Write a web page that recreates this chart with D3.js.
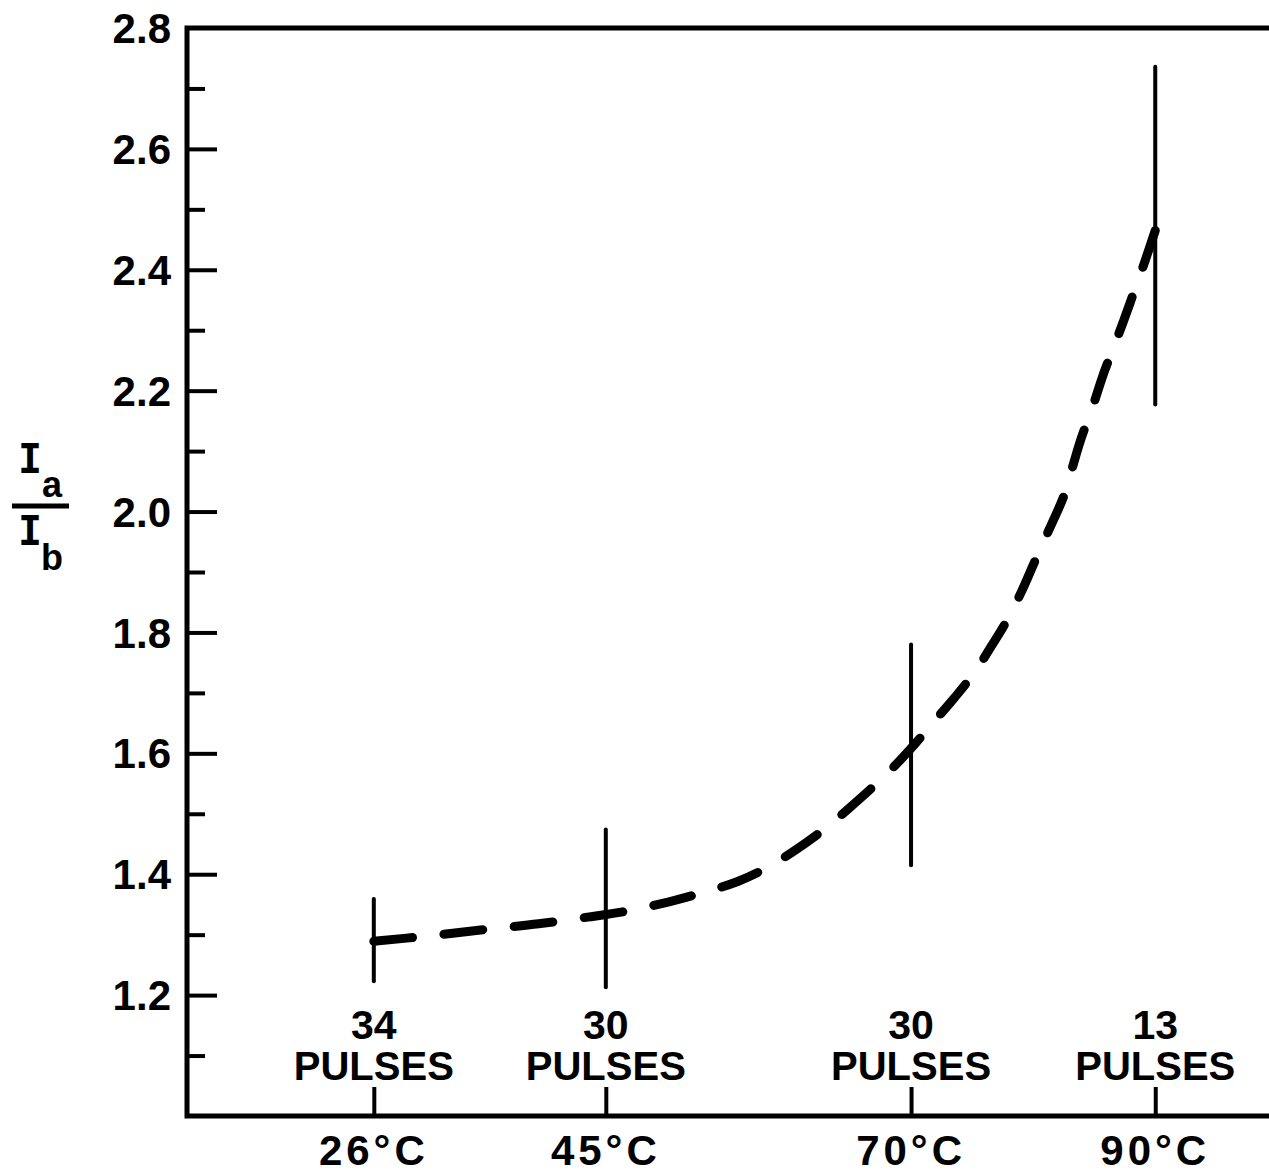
<!DOCTYPE html>
<html>
<head>
<meta charset="utf-8">
<script src="https://cdn.jsdelivr.net/npm/d3@7"></script>
<style>
  html, body { margin: 0; padding: 0; background: #fff; }
  svg { display: block; }
  text { fill: #000; }
</style>
</head>
<body>
<svg id="chart" width="1269" height="1173"></svg>
<script>
// Measurement temperatures (°C) and the number of pulses averaged at each
const temps = [26, 45, 70, 90];
const pulseCounts = [34, 30, 30, 13];
const tempLabels = ["26°C", "45°C", "70°C", "90°C"];

// Spread of the ratio I_a / I_b at each temperature (vertical bars)
const ratioLow  = [1.223, 1.213, 1.415, 2.177];
const ratioHigh = [1.359, 1.474, 1.780, 2.736];

// Smooth trend through the measurements (dashed curve)
const trendTemp  = [26, 30.5, 35.3, 39.5, 43.5, 47, 50.1, 53, 55.8, 58.3, 60.6, 62.8, 64.8, 66.8, 68.6, 70.3, 71.9, 73.6, 75.2, 76.6, 78.0, 79.1, 80.1, 81.3, 82.5, 83.2, 83.9, 84.9, 85.8, 86.6, 87.4, 88.2, 89.0, 90];
const trendRatio = [1.289, 1.298, 1.309, 1.318, 1.329, 1.340, 1.354, 1.370, 1.388, 1.412, 1.441, 1.473, 1.507, 1.543, 1.578, 1.615, 1.653, 1.693, 1.734, 1.778, 1.825, 1.870, 1.916, 1.970, 2.025, 2.072, 2.119, 2.175, 2.230, 2.272, 2.315, 2.360, 2.405, 2.465];

// Axis ticks
const yMajor = [1.2, 1.4, 1.6, 1.8, 2.0, 2.2, 2.4, 2.6, 2.8];
const yMinor = [1.1, 1.3, 1.5, 1.7, 1.9, 2.1, 2.3, 2.5, 2.7];
const yTickLabels = ["1.2", "1.4", "1.6", "1.8", "2.0", "2.2", "2.4", "2.6", "2.8"];

const SANS = '"Liberation Sans", Arial, sans-serif';
const MONO = '"DejaVu Sans Mono", monospace';

const svg = d3.select("#chart");

const plot = { left: 187, top: 28, right: 1292, bottom: 1116 };

const x = d3.scaleLinear().domain([10.7, 101.2]).range([plot.left, plot.right]);
const y = d3.scaleLinear().domain([1.0, 2.8]).range([plot.bottom, plot.top]);

function label(sel, size) {
  return sel.style("font-family", SANS).style("font-weight", "700").style("font-size", size + "px");
}

// Frame (right edge runs past the page)
svg.append("rect")
  .attr("x", plot.left).attr("y", plot.top)
  .attr("width", plot.right - plot.left).attr("height", plot.bottom - plot.top)
  .attr("fill", "none").attr("stroke", "#000").attr("stroke-width", 5);

// Y axis: major ticks with labels, minor ticks between
const yAxis = d3.axisRight(y)
  .tickValues(yMajor.filter(v => v < 2.8))
  .tickSize(30).tickFormat("");
const gy = svg.append("g").attr("transform", `translate(${plot.left},0)`).call(yAxis);
gy.select(".domain").remove();
gy.selectAll(".tick line").attr("stroke", "#000").attr("stroke-width", 4);

const yAxisMinor = d3.axisRight(y).tickValues(yMinor).tickSize(18).tickFormat("");
const gym = svg.append("g").attr("transform", `translate(${plot.left},0)`).call(yAxisMinor);
gym.select(".domain").remove();
gym.selectAll(".tick line").attr("stroke", "#000").attr("stroke-width", 4);

svg.append("g").selectAll("text")
  .data(yMajor)
  .join("text")
  .attr("x", 171)
  .attr("y", d => y(d))
  .attr("dy", "0.36em")
  .attr("text-anchor", "end")
  .call(label, 42)
  .text((d, i) => yTickLabels[i]);

// X axis: ticks pointing up at each temperature
const xAxis = d3.axisTop(x).tickValues(temps).tickSize(29).tickFormat("");
const gx = svg.append("g").attr("transform", `translate(0,${plot.bottom})`).call(xAxis);
gx.select(".domain").remove();
gx.selectAll(".tick line").attr("stroke", "#000").attr("stroke-width", 4);

svg.append("g").selectAll("text")
  .data(temps)
  .join("text")
  .attr("x", d => x(d))
  .attr("y", 1165)
  .attr("text-anchor", "middle")
  .call(label, 42)
  .style("letter-spacing", "4px")
  .text((d, i) => tempLabels[i]);

// Pulse counts above each tick
const pulseG = svg.append("g").selectAll("g")
  .data(temps)
  .join("g");
pulseG.append("text")
  .attr("x", d => x(d))
  .attr("y", 1039)
  .attr("text-anchor", "middle")
  .call(label, 41)
  .text((d, i) => pulseCounts[i]);
pulseG.append("text")
  .attr("x", d => x(d))
  .attr("y", 1080)
  .attr("text-anchor", "middle")
  .call(label, 40)
  .text("PULSES");

// Vertical spread bars
svg.append("g").selectAll("line")
  .data(temps)
  .join("line")
  .attr("x1", d => x(d)).attr("x2", d => x(d))
  .attr("y1", (d, i) => y(ratioHigh[i]))
  .attr("y2", (d, i) => y(ratioLow[i]))
  .attr("stroke", "#000").attr("stroke-width", 4)
  .attr("stroke-linecap", "round");

// Dashed trend curve; the dash pattern is stretched so that both ends are dashes
const trend = trendTemp.map((t, i) => [t, trendRatio[i]]);
const line = d3.line()
  .x(d => x(d[0])).y(d => y(d[1]))
  .curve(d3.curveCatmullRom.alpha(0.5));
const trendPath = svg.append("path")
  .datum(trend)
  .attr("d", line)
  .attr("fill", "none")
  .attr("stroke", "#000")
  .attr("stroke-width", 9)
  .attr("stroke-linecap", "round");
const total = trendPath.node().getTotalLength();
const dashLen = 38, gapLen = 31;
const nDash = Math.round((total + gapLen) / (dashLen + gapLen));
const k = total / (nDash * dashLen + (nDash - 1) * gapLen);
trendPath.attr("stroke-dasharray", `${dashLen * k} ${gapLen * k}`);

// Y axis title: I_a over I_b
const title = svg.append("g");
title.append("text")
  .attr("x", 30).attr("y", 473)
  .attr("text-anchor", "middle")
  .style("font-family", MONO).style("font-weight", "700").style("font-size", "40px")
  .text("I");
title.append("text")
  .attr("x", 52).attr("y", 497)
  .attr("text-anchor", "middle")
  .call(label, 36)
  .text("a");
title.append("line")
  .attr("x1", 12).attr("x2", 69)
  .attr("y1", 506).attr("y2", 506)
  .attr("stroke", "#000").attr("stroke-width", 5);
title.append("text")
  .attr("x", 30).attr("y", 545)
  .attr("text-anchor", "middle")
  .style("font-family", MONO).style("font-weight", "700").style("font-size", "40px")
  .text("I");
title.append("text")
  .attr("x", 52).attr("y", 570)
  .attr("text-anchor", "middle")
  .call(label, 36)
  .text("b");
</script>
</body>
</html>
